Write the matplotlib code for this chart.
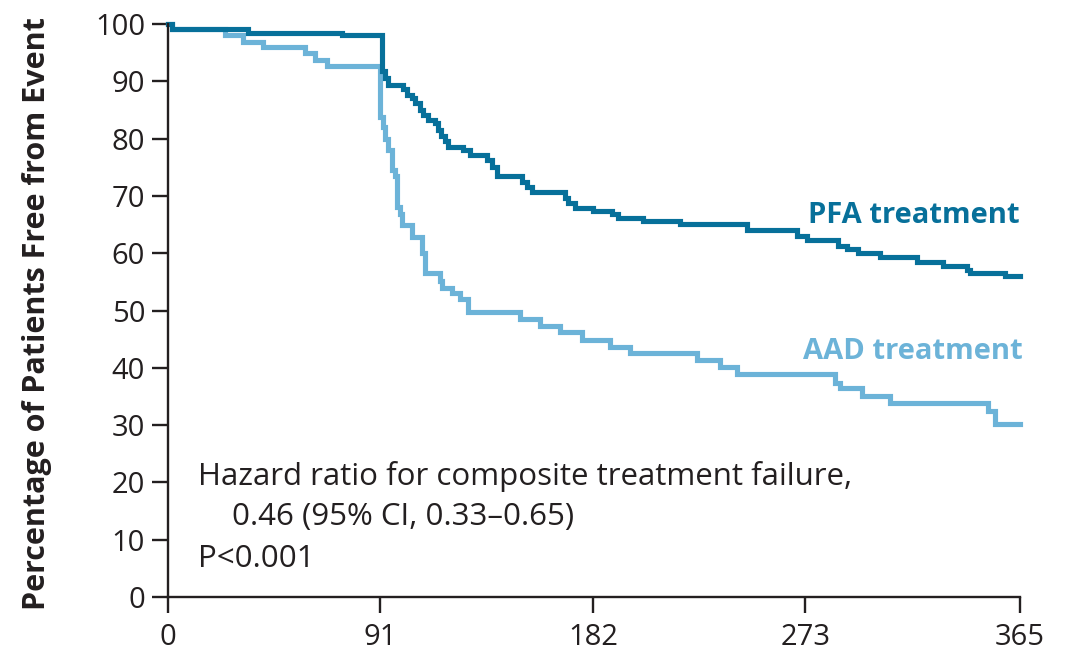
import matplotlib
matplotlib.use('Agg')
import matplotlib.pyplot as plt

# dias x % livre de evento (curvas em degrau)
pfa_dias = [0, 1.5, 34.4, 74.4, 91.5, 92.8, 94.4, 100.8, 102.3, 104.4, 105.8, 108.0,
            109.4, 111.5, 114.4, 115.8, 116.8, 118.7, 120.1, 126.5, 129.4, 136.5,
            138.7, 140.8, 151.5, 153.7, 155.8, 170.1, 171.5, 174.4, 182.2, 190.1,
            192.9, 203.6, 219.4, 247.9, 269.4, 273.6, 287.2, 290.8, 295.8, 305.1,
            320.8, 332.2, 342.2, 343.6, 358.6, 365]
pfa_pct = [100, 99.1, 98.5, 98.0, 91.8, 90.5, 89.4, 88.6, 87.6, 87.0, 86.2, 85.0,
           84.2, 83.3, 82.7, 81.5, 80.4, 79.5, 78.6, 78.0, 77.1, 76.3,
           75.1, 73.4, 72.5, 71.6, 70.7, 69.7, 68.7, 67.9, 67.4, 66.8,
           66.1, 65.6, 65.1, 64.0, 63.0, 62.3, 61.3, 60.7, 60.0, 59.4,
           58.4, 57.8, 57.1, 56.5, 56.0, 56.0]

aad_dias = [0, 1.5, 24.4, 32.3, 40.8, 58.7, 63.0, 68.0, 90.8, 92.0, 93.0, 94.4,
            95.8, 97.3, 98.0, 99.4, 100.4, 104.4, 108.7, 110.1, 116.5, 117.2,
            121.5, 125.1, 128.7, 150.8, 159.4, 168.0, 177.2, 189.4, 198.0, 226.5,
            236.5, 243.7, 285.8, 288.0, 297.2, 309.3, 351.5, 354.3, 365]
aad_pct = [100, 99.1, 98.1, 96.8, 95.9, 94.9, 93.8, 92.7, 83.8, 82.1, 80.0, 78.0,
           74.5, 73.4, 68.1, 66.9, 64.9, 62.9, 60.0, 56.6, 55.1, 54.0,
           53.1, 52.0, 49.8, 48.6, 47.3, 46.2, 44.9, 43.7, 42.5, 41.4,
           40.2, 38.9, 37.4, 36.4, 35.1, 33.9, 32.5, 30.2, 30.2]

x_ticks = [0, 91, 182, 273, 365]
y_ticks = list(range(0, 101, 10))

COR_PFA = '#07709a'
COR_AAD = '#6cb3d8'
COR_TXT = '#231f20'

plt.rcParams['font.family'] = ['Open Sans', 'DejaVu Sans']

fig = plt.figure(figsize=(10.71, 6.52), dpi=100)
ax = fig.add_axes([168 / 1071, 1 - 597 / 652, (1020 - 168) / 1071, (597 - 24) / 652])

ax.step(aad_dias, aad_pct, where='post', color=COR_AAD, lw=3.7, clip_on=False,
        solid_joinstyle='miter')
ax.step(pfa_dias, pfa_pct, where='post', color=COR_PFA, lw=3.7, clip_on=False,
        solid_joinstyle='miter')

ax.set_xlim(0, 365)
ax.set_ylim(0, 100)
ax.set_xticks(x_ticks)
ax.set_yticks(y_ticks)
for s in ['top', 'right']:
    ax.spines[s].set_visible(False)
for s in ['left', 'bottom']:
    ax.spines[s].set_linewidth(1.7)
    ax.spines[s].set_color(COR_TXT)
ax.tick_params(axis='both', direction='out', length=11.5, width=1.7, color=COR_TXT,
               labelsize=21, labelcolor=COR_TXT)
ax.tick_params(axis='y', pad=5)
ax.tick_params(axis='x', pad=7)

ax.set_ylabel('Percentage of Patients Free from Event', fontsize=22, fontweight='bold',
              color=COR_TXT)
ax.yaxis.set_label_coords(-0.136, 0.494)

ax.text(365, 66.5, 'PFA treatment', color=COR_PFA, fontsize=21, fontweight='bold',
        ha='right', va='center')
ax.text(366, 42.9, 'AAD treatment', color=COR_AAD, fontsize=21, fontweight='bold',
        ha='right', va='center')

ax.text(12.9, 19.5, 'Hazard ratio for composite treatment failure,', fontsize=22.5,
        color=COR_TXT, va='baseline')
ax.text(27.4, 12.6, '0.46 (95% CI, 0.33\u20130.65)', fontsize=22.5, color=COR_TXT,
        va='baseline')
ax.text(12.9, 5.2, 'P<0.001', fontsize=22.5, color=COR_TXT, va='baseline')

fig.savefig('out.png', dpi=100)
